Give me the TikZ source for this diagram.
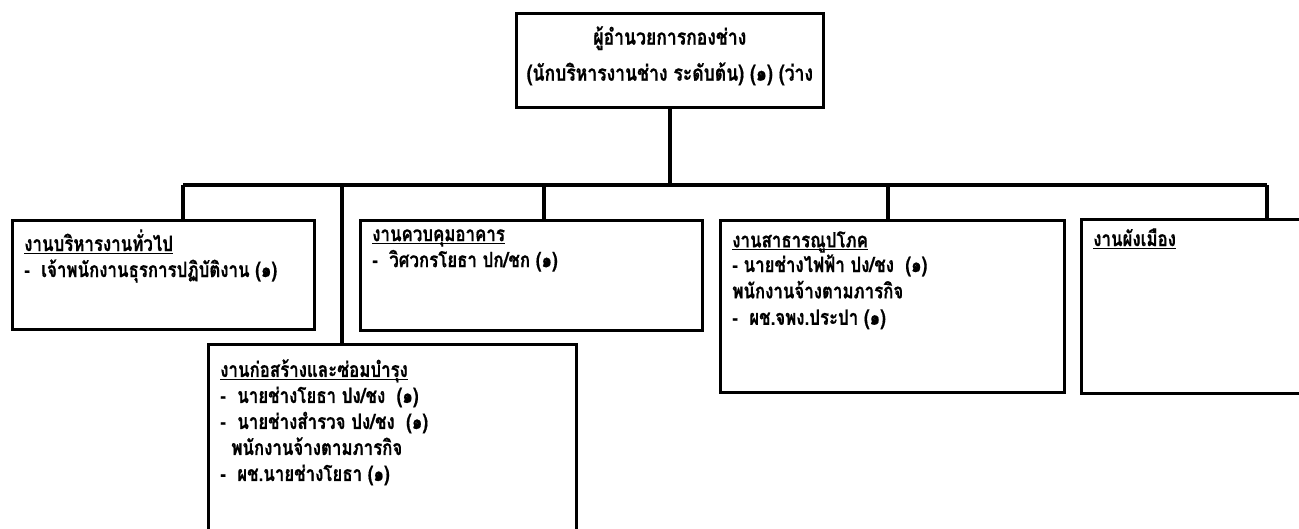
\documentclass[tikz,border=0pt]{standalone}
\usepackage{fontspec}
\newfontfamily\thaifont[Script=Thai,FakeStretch=0.8,FakeBold=0.6]{Loma}
\usepackage{tikz}
\newcommand{\boxtext}[4][13pt]{\parbox[t][#3][t]{#2}{\baselineskip=#1\relax #4}}
\newcommand{\undl}[1]{\leavevmode\setbox0\hbox{#1}\rlap{\rule[-1.6pt]{\wd0}{0.7pt}}\box0}

\begin{document}
\begin{tikzpicture}[x=1.0cm,y=1.0cm]
\tikzstyle{every node}=[font=\thaifont\bfseries\fontsize{12}{13}\selectfont]
\tikzstyle{unit}=[draw,line width=1.5pt,anchor=north west,inner xsep=.24cm,inner ysep=.18cm]
\tikzstyle{head}=[unit,inner xsep=0pt,inner ysep=.26cm,font=\thaifont\bfseries\fontsize{12.5}{17}\selectfont]
\tikzstyle{wire}=[draw,line width=2pt]
\def \busy {-3.7}
\path[use as bounding box,clip] (0,0) rectangle (25.98,-10.56);
\draw
  (10.30,-0.24) node [head] (head) {\boxtext[17pt]{6.14cm}{1.36cm}{\centering
      ผู้อำนวยการกองช่าง\\[3.5pt](นักบริหารงานช่าง ระดับต้น) (๑) (ว่าง}}
  ( 0.22,-4.38) node [unit] (gen)  {\boxtext[14.3pt]{5.56cm}{1.82cm}{%
      \undl{งานบริหารงานทั่วไป}\\[.5pt]
      -~~เจ้าพนักงานธุรการปฏิบัติงาน (๑)}}
  ( 7.18,-4.38) node [unit] (ctrl) {\boxtext[14.3pt]{6.36cm}{1.84cm}{%
      \undl{งานควบคุมอาคาร}\\[.5pt]
      -~~วิศวกรโยธา ปก/ชก (๑)}}
  (14.38,-4.38) node [unit,inner ysep=.22cm] (util) {\boxtext{6.40cm}{3.0cm}{%
      \undl{งานสาธารณูปโภค}\\[1pt]
      - นายช่างไฟฟ้า ปง/ชง~~(๑)\\[2pt]
      พนักงานจ้างตามภารกิจ\\[2pt]
      -~~ผช.จพง.ประปา (๑)}}
  ( 4.14,-6.86) node [unit,inner ysep=.3cm] (build) {\boxtext[12.8pt]{6.88cm}{3.7cm}{%
      \undl{งานก่อสร้างและซ่อมบำรุง}\\[2pt]
      -~~นายช่างโยธา ปง/ชง~~(๑)\\[2pt]
      -~~นายช่างสำรวจ ปง/ชง~~(๑)\\[2pt]
      \hspace*{.22cm}พนักงานจ้างตามภารกิจ\\[2pt]
      -~~ผช.นายช่างโยธา (๑)}}
  (21.60,-4.36) node [unit] (plan) {\boxtext{4.12cm}{3.12cm}{%
      \undl{งานผังเมือง}}}
;
% bus line and drops
\coordinate (busL) at ( 3.66,\busy);
\coordinate (dB)   at ( 6.84,\busy);
\coordinate (dC)   at (10.88,\busy);
\coordinate (dU)   at (17.76,\busy);
\coordinate (busR) at (25.34,\busy);
\path[wire]
  (head.south) -- (head.south |- busL)
  (busL) -- (busR)
  (busL) -- (busL |- gen.north)
  (dB)   -- (dB |- build.north)
  (dC)   -- (dC |- ctrl.north)
  (dU)   -- (dU |- util.north)
  (busR) -- (busR |- plan.north)
;
\end{tikzpicture}
\end{document}
